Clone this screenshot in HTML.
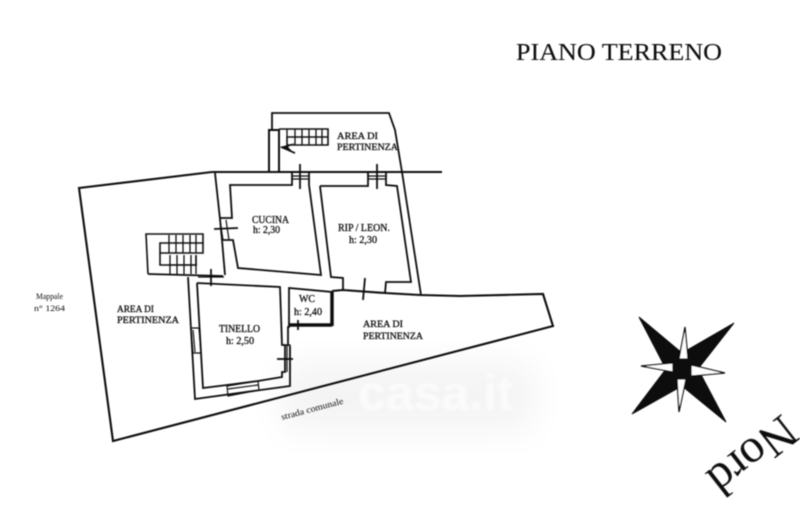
<!DOCTYPE html>
<html><head><meta charset="utf-8"><style>
html,body{margin:0;padding:0;background:#fff;width:800px;height:507px;overflow:hidden}
svg{display:block}
text{font-family:"Liberation Serif",serif;fill:#111}
</style></head><body>
<svg width="800" height="507" viewBox="0 0 800 507" xmlns="http://www.w3.org/2000/svg">
<defs>
<filter id="b" x="-5%" y="-5%" width="110%" height="110%"><feGaussianBlur stdDeviation="0.4"/></filter>
<filter id="w" x="-30%" y="-30%" width="160%" height="160%"><feGaussianBlur stdDeviation="16"/></filter>
<filter id="w2"><feGaussianBlur stdDeviation="1.2"/></filter>
</defs>
<rect width="800" height="507" fill="#fff"/>
<!-- watermark -->
<rect x="280" y="362" width="255" height="70" rx="20" fill="#f4f4f4" filter="url(#w)"/>
<text x="358" y="410" font-size="50" style="font-family:'Liberation Sans',sans-serif;font-weight:bold;fill:#fbfbfb" filter="url(#w2)">casa.it</text>

<g filter="url(#b)" fill="none" stroke="#111" stroke-linejoin="miter">
<!-- lot outline -->
<g stroke-width="2.1">
<path d="M212 172L79 188L113 441L553 326L543 294L460 296L420 295L385 293L343 290L332 291" />
<path d="M212 172H442" />
<path d="M272 130V113H389L395 130L402 172L421 295" stroke-width="1.8"/>
</g>
<!-- Rip room -->
<g stroke-width="1.8">
<path d="M320 186L331 277L343 278V290"/>
<path d="M320 186H368V173"/>
<path d="M386 173V185L397 186L411 282L386 282L385 293"/>
<path d="M368 176H386M368 179H386" stroke-width="1.2"/>
<path d="M377 164V189M365 278L363 300" stroke-width="1.8"/>
<!-- Cucina -->
<path d="M292 173V185H230L232 218H220"/>
<path d="M309 173V185L321 275L238 268L233 240H223"/>
<path d="M292 176H309M292 179H309" stroke-width="1.2"/>
<path d="M300 164V189"/>
<path d="M215 173L220 219L222 240L225 275"/>
<path d="M220 220L223 240M226 220L229 240" stroke-width="1.2"/>
<path d="M214 229L238 228"/>
<!-- Tinello -->
<path d="M148 274L223 276"/>
<path d="M188 277L195 399L290 386V346"/>
<path d="M197 283L203 388L227 385L258 381L282 377V372H285V345H282L280 287L197 283"/>
<path d="M288 346V327H289V288L332 292V325H289"/>
<path d="M191 328H199L201 353H193ZM193 330L195 352" stroke-width="1.2"/>
<path d="M227 386L258 381L259 390L228 396ZM228 389L258 385" stroke-width="1.2"/>
<path d="M285 345H290V372M287 345V372" stroke-width="1.2"/>
<path d="M277 359H293"/>
<path d="M198 277H224" stroke-width="1.2"/>
<path d="M211 269V286M298 320V330"/>
<path d="M332 292V326M289 325H332" stroke-width="3.5"/>
<!-- top stair -->
<path d="M269 172V130H279V172" stroke-width="2"/>
<path d="M279 129H328V145H287V137H328" stroke-width="1.6"/>
<path d="M295 129V145M302 129V145M309 129V145M316 129V145M322 129V145M287 129V137" stroke-width="1.3"/>
<!-- left stair -->
<path d="M148 274L146 234H203V253H160V243H203" stroke-width="1.6"/>
<path d="M160 253V265H196V255" stroke-width="1.6"/>
<path d="M169 235V253M176 235V253M183 235V253M190 235V253M196 235V253" stroke-width="1.3"/>
<path d="M170 255V274M177 255V274M184 255V274M191 255V274M168 265H197M196 255V274" stroke-width="1.3"/>
</g>
<path d="M280 147L295 143L288 147L295 154Z" fill="#111" stroke="none"/>
<path d="M281 147L295 153" stroke-width="1.5"/>
<!-- compass -->
<path d="M639 317L682 353L734 323L698 369L726 422L682 386L632 414L666 369Z" fill="#111" stroke="#111" stroke-width="1"/>
<circle cx="682" cy="369" r="10" fill="#111" stroke="none"/>
<path d="M685 327L679 359H688Z" fill="#fff" stroke="#111" stroke-width="1.3"/>
<path d="M725 373L691 365L691 376Z" fill="#fff" stroke="#111" stroke-width="1.3"/>
<path d="M679 412L677 379H686Z" fill="#fff" stroke="#111" stroke-width="1.3"/>
<path d="M641 366L673 363L673 372Z" fill="#fff" stroke="#111" stroke-width="1.3"/>
</g>

<g filter="url(#b)" stroke="#111" stroke-width="0.3">
<text x="516" y="60" font-size="24" textLength="206" lengthAdjust="spacingAndGlyphs" stroke-width="0.1">PIANO TERRENO</text>
<text x="337" y="139" font-size="9.5" textLength="41" lengthAdjust="spacingAndGlyphs">AREA DI</text>
<text x="337" y="150" font-size="9.5" textLength="61" lengthAdjust="spacingAndGlyphs">PERTINENZA</text>
<text x="252" y="223" font-size="10" textLength="37" lengthAdjust="spacingAndGlyphs">CUCINA</text>
<text x="253" y="233" font-size="10" textLength="27" lengthAdjust="spacingAndGlyphs">h: 2,30</text>
<text x="338" y="231" font-size="10" textLength="52" lengthAdjust="spacingAndGlyphs">RIP / LEON.</text>
<text x="349" y="243" font-size="10" textLength="28" lengthAdjust="spacingAndGlyphs">h: 2,30</text>
<text x="117" y="312" font-size="9.5" textLength="37" lengthAdjust="spacingAndGlyphs">AREA DI</text>
<text x="117" y="323" font-size="9.5" textLength="62" lengthAdjust="spacingAndGlyphs">PERTINENZA</text>
<text x="219" y="332" font-size="10" textLength="41" lengthAdjust="spacingAndGlyphs">TINELLO</text>
<text x="226" y="344" font-size="10" textLength="28" lengthAdjust="spacingAndGlyphs">h: 2,50</text>
<text x="299" y="302" font-size="10" textLength="16" lengthAdjust="spacingAndGlyphs">WC</text>
<text x="294" y="315" font-size="10" textLength="28" lengthAdjust="spacingAndGlyphs">h: 2,40</text>
<text x="363" y="327" font-size="9.5" textLength="40" lengthAdjust="spacingAndGlyphs">AREA DI</text>
<text x="363" y="339" font-size="9.5" textLength="60" lengthAdjust="spacingAndGlyphs">PERTINENZA</text>
</g>
<g filter="url(#b)">
<text x="36" y="299" font-size="8.5" textLength="27" lengthAdjust="spacingAndGlyphs">Mappale</text>
<text x="34" y="311" font-size="8.5" textLength="31" lengthAdjust="spacingAndGlyphs">n° 1264</text>
<text transform="translate(282 420) rotate(-15)" font-size="9" textLength="64" lengthAdjust="spacingAndGlyphs">strada comunale</text>
<text transform="translate(782 413) rotate(142)" font-size="48">Nord</text>
</g>
</svg>
</body></html>
